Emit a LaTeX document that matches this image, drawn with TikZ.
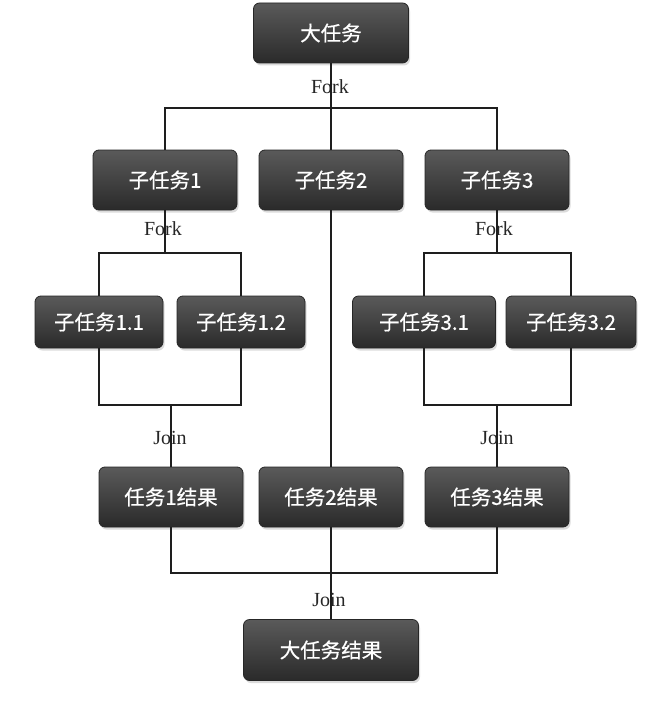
\documentclass[tikz,border=0pt]{standalone}
\usepackage{fontspec}
\setmainfont{Liberation Serif}
\newfontfamily\cjk{Noto Sans CJK SC}[FakeBold=0.6]
\usetikzlibrary{shadows}
\definecolor{boxtop}{HTML}{5A5A5A}
\definecolor{boxbot}{HTML}{2A2A2A}
\definecolor{wire}{HTML}{1E1E1E}
\tikzset{
  task/.style={rectangle, rounded corners=6pt, draw=black!85, line width=0.8pt,
    top color=boxtop, bottom color=boxbot, text=white,
    font=\cjk\fontsize{20.5}{24}\selectfont, inner sep=0pt,
    minimum width=144pt, minimum height=60pt,
    drop shadow={opacity=0.28, shadow xshift=1.5pt, shadow yshift=-2.5pt}},
  small/.style={task, minimum width=128pt, minimum height=52pt},
  tag/.style={font=\fontsize{20}{24}\selectfont, text=black!85, inner sep=0pt},
  wireline/.style={draw=wire, line width=1.6pt}
}
\begin{document}
\begin{tikzpicture}[x=1pt, y=-1pt]
\useasboundingbox[fill=white] (0,0) rectangle (654,701);

% labels first, lines run through them
\node[tag] (fork0) at (330,87) {Fork};
\node[tag] (fork1) at (163,229) {Fork};
\node[tag] (fork3) at (494,229) {Fork};
\node[tag] (join1) at (170,438) {Join};
\node[tag] (join3) at (497,438) {Join};
\node[tag] (join0) at (329,600) {Join};

% junction points
\coordinate (f0) at (331,108);
\coordinate (f1) at (165,253);
\coordinate (f3) at (497,253);
\coordinate (j1) at (171,405);
\coordinate (j3) at (497,405);
\coordinate (j0) at (331,573);

% tasks
\node[task, minimum width=155pt] (big) at (331,33) {大任务};
\node[task] (t1) at (165,180) {子任务1};
\node[task] (t2) at (331,180) {子任务2};
\node[task] (t3) at (497,180) {子任务3};
\node[small] (t11) at (99,322) {子任务1.1};
\node[small] (t12) at (241,322) {子任务1.2};
\node[small, minimum width=143pt] (t31) at (424,322) {子任务3.1};
\node[small, minimum width=130pt] (t32) at (571,322) {子任务3.2};
\node[task] (r1) at (171,497) {任务1结果};
\node[task] (r2) at (331,497) {任务2结果};
\node[task] (r3) at (497,497) {任务3结果};
\node[task, minimum width=175pt, minimum height=61pt] (final) at (331,650) {大任务结果};

% connectors
\path[wireline] (big.south) -- (f0);
\path[wireline] (t1.north) |- (f0) -| (t3.north);
\path[wireline] (f0) -- (t2.north);

\path[wireline] (t1.south) -- (f1);
\path[wireline] (t11.north) |- (f1) -| (t12.north);
\path[wireline] (t11.south) |- (j1) -| (t12.south);
\path[wireline] (j1) -- (r1.north);

\path[wireline] (t3.south) -- (f3);
\path[wireline] (t31.north) |- (f3) -| (t32.north);
\path[wireline] (t31.south) |- (j3) -| (t32.south);
\path[wireline] (j3) -- (r3.north);

\path[wireline] (t2.south) -- (r2.north);

\path[wireline] (r1.south) |- (j0) -| (r3.south);
\path[wireline] (r2.south) -- (j0);
\path[wireline] (j0) -- (final.north);
\end{tikzpicture}
\end{document}
